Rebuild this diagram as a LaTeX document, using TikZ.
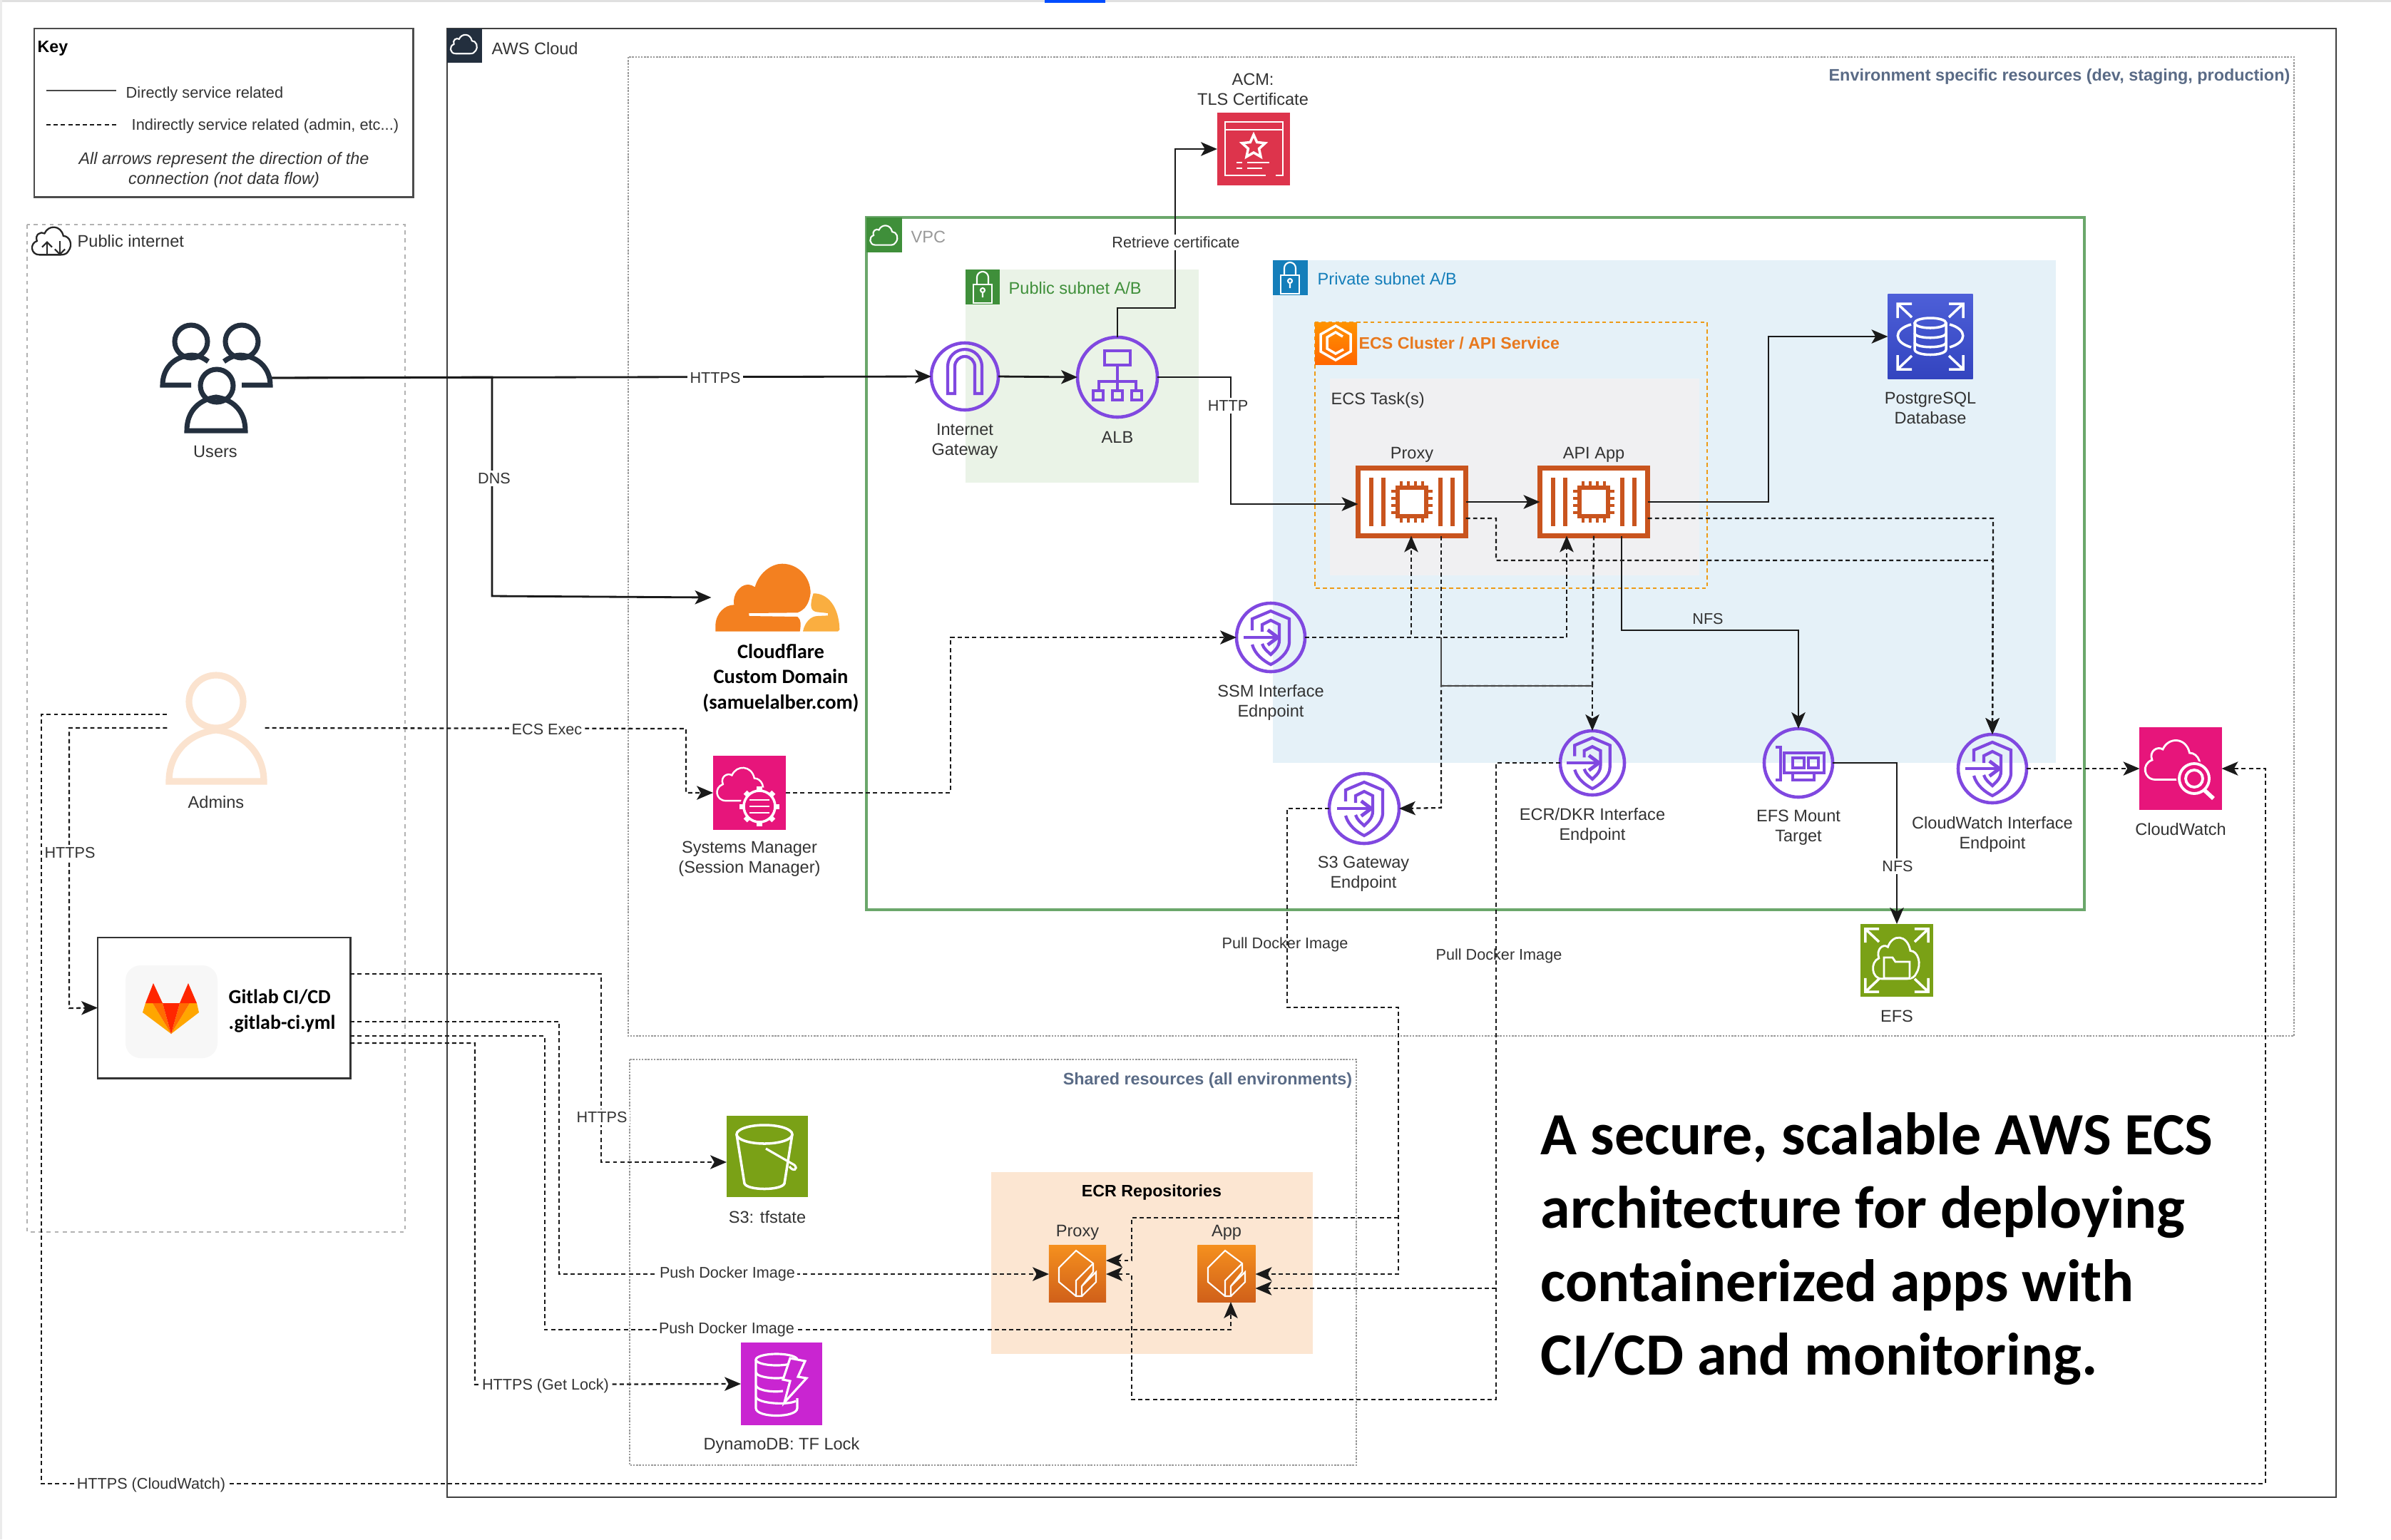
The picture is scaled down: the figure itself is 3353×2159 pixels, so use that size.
\documentclass[tikz,border=0pt]{standalone}
\usepackage{fontspec}
\setmainfont{Liberation Sans}
\newfontfamily\calfont{Carlito}
\usetikzlibrary{arrows.meta}
\definecolor{txtc}{HTML}{333333}
\definecolor{ink}{HTML}{1A1A1A}
\definecolor{purp}{HTML}{8048E0}
\definecolor{chipc}{HTML}{C9541E}
\definecolor{slate}{HTML}{5A6B86}
\definecolor{awsd}{HTML}{232F3E}
\definecolor{vpcg}{HTML}{3F8F3A}
\definecolor{vpcl}{HTML}{6BA76B}
\definecolor{subb}{HTML}{147EBA}
\definecolor{orng}{HTML}{E8791E}
\definecolor{pinkc}{HTML}{E7157B}
\definecolor{greenc}{HTML}{7AA116}
\definecolor{redc}{HTML}{DD344C}
\definecolor{magc}{HTML}{C925D1}
\definecolor{cfa}{HTML}{F38020}
\definecolor{cfb}{HTML}{FAAE40}
\definecolor{pubbg}{HTML}{EAF3E7}
\definecolor{privbg}{HTML}{E5F1F8}
\definecolor{taskbg}{HTML}{F0F0F2}
\definecolor{ecrbg}{HTML}{FCE6D2}
\definecolor{admc}{HTML}{FBE3CF}
\definecolor{rdst}{HTML}{4D5FD8}
\definecolor{rdsb}{HTML}{3344BF}
\definecolor{ecrt}{HTML}{F5901E}
\definecolor{ecrb}{HTML}{D0601A}
\tikzset{
 lbl/.style={font=\fontsize{6.7}{8}\selectfont,text=txtc,align=center,inner sep=0pt,yshift=-.6pt},
 conlbl/.style={font=\fontsize{6.15}{8}\selectfont,text=txtc,align=center,fill=white,inner sep=1pt},
 plainlbl/.style={font=\fontsize{6.15}{8}\selectfont,text=txtc,align=center,inner sep=0pt,yshift=-.6pt},
 boldb/.style={font=\calfont\bfseries\fontsize{8.1}{10}\selectfont,text=black,align=center,inner sep=0pt},
 sol/.style={draw=ink,line width=.8pt,-{Stealth[length=6.5pt,width=5.5pt,inset=1.6pt]}},
 dsh/.style={draw=ink,line width=.65pt,dash pattern=on 1.7pt off 1.2pt,-{Stealth[length=6.5pt,width=5.5pt,inset=1.6pt]}},
 dshp/.style={draw=ink,line width=.65pt,dash pattern=on 1.7pt off 1.2pt},
 dotbox/.style={draw=gray!80,line width=.5pt,dash pattern=on .7pt off .5pt},
 circ/.style={circle,draw=purp,line width=1.3pt,inner sep=0pt,outer sep=0pt},
 sq/.style={rectangle,inner sep=0pt,outer sep=0pt},
 chipbox/.style={rectangle,draw=chipc,line width=1.8pt,fill=white,inner sep=0pt,outer sep=0pt,minimum width=1.51cm,minimum height=.95cm},
 wl/.style={draw=white,line width=.8pt},
 endpointic/.pic={
  \draw[purp,line width=1.2pt] (-26,-10) -- (-26,-26) -- (0,-37) -- (26,-26) -- (26,6) .. controls (26,22) and (10,33) .. (0,38) .. controls (-10,33) and (-22,24) .. (-26,10);
  \draw[purp,line width=1.2pt] (-12,-8) -- (-12,-18) -- (0,-24) -- (12,-18) -- (12,4) .. controls (12,14) and (4,20) .. (0,24) .. controls (-4,20) and (-10,16) .. (-12,9);
  \draw[purp,line width=1.4pt,-{Straight Barb[length=4pt,width=6pt]}] (-38,0) -- (14,0);
 },
 igwic/.pic={
  \draw[purp,line width=1.2pt] (-24,24) -- (-24,-14) arc[start angle=180,end angle=360,radius=24] -- (24,24) -- (14,24) -- (14,-14) arc[start angle=360,end angle=180,radius=14] -- (-14,24) -- cycle;
 },
 albic/.pic={
  \draw[purp,line width=1.2pt] (-18,-37) rectangle (18,-17);
  \draw[purp,line width=1.2pt] (0,-17) -- (0,6) (-26,19) -- (-26,6) -- (26,6) -- (26,19) (0,6) -- (0,19);
  \foreach \a in {-34,-7,20}{\draw[purp,line width=1.2pt] (\a,19) rectangle ++(14,13);}
 },
 chipic/.pic={
  \foreach \a in {-57,-40,40,57}{\draw[chipc,line width=1.7pt] (\a,-34) -- (\a,34);}
  \draw[chipc,line width=1.9pt] (-20,-20) rectangle (20,20);
  \foreach \a in {-15,-5,5,15}{
   \draw[chipc,line width=1.3pt] (\a,-29) -- (\a,-20) (\a,20) -- (\a,29) (-29,\a) -- (-20,\a) (20,\a) -- (29,\a);}
 },
 cloudic/.pic={
  \draw[pic actions] (-14,22) -- (-20,22) .. controls (-34,22) and (-36,4) .. (-24,0) .. controls (-28,-10) and (-18,-16) .. (-12,-12) .. controls (-6,-26) and (14,-26) .. (18,-8) .. controls (28,-8) and (34,6) .. (26,16) .. controls (24,20) and (20,22) .. (14,22) -- cycle;
 },
 lockic/.pic={
  \draw[pic actions] (-13,-3) rectangle (13,23);
  \draw[pic actions] (-8,-3) -- (-8,-13) arc[start angle=180,end angle=360,radius=8] -- (8,-3);
  \draw[pic actions] (0,5) circle[radius=3] (0,8) -- (0,15);
 },
 hexic/.pic={
  \draw[wl,line width=1pt] (0,-24) -- (21,-12) -- (21,12) -- (0,24) -- (-21,12) -- (-21,-12) -- cycle;
  \draw[wl,line width=1pt] (10,-9) -- (0,-15) -- (-12,-8) -- (-12,8) -- (0,15) -- (11,9);
 },
 ecric/.pic={
  \draw[wl,line width=.6pt] (-26,-8) -- (-2,-32) -- (22,-14) -- (22,-2) -- (6,18) -- (6,32) -- (-2,32) -- (-26,12) -- cycle;
  \draw[wl,line width=.6pt] (22,-14) -- (-2,10) -- (-2,32) (6,18) -- (26,-2) -- (26,12) -- (6,32);
 },
 arrowsic/.pic={
  \foreach \sx/\sy in {1/1,1/-1,-1/1,-1/-1}{
   \draw[wl,line width=1pt] (\sx*26,\sy*27) -- (\sx*46,\sy*46) (\sx*46,\sy*26) -- (\sx*46,\sy*46) -- (\sx*26,\sy*46);}
 },
}
\begin{document}
\begin{tikzpicture}[x=0.01cm,y=-0.01cm]
\useasboundingbox (0,0) rectangle (3353,2159);
\fill[white] (0,0) rectangle (3353,2159);
\fill[black!12] (0,0) rectangle (3353,3);
\fill[black!8] (0,0) rectangle (3,2159);
\fill[blue!70!cyan] (1465,0) rectangle (1550,4);

%% containers
\node[sq,draw=black!70,line width=.8pt,minimum width=5.31cm,minimum height=2.36cm,anchor=north west] (keybox) at (48,40) {};
\draw[draw=gray!60,line width=.6pt,dash pattern=on 1.6pt off 1.6pt] (38,315) rectangle (568,1728);
\draw[draw=black!75,line width=.8pt] (627,40) rectangle (3276,2100);
\draw[dotbox] (881,80) rectangle (3217,1453);
\draw[dotbox] (883,1486) rectangle (1902,2055);
\draw[vpcl,line width=.9pt] (1215,305) rectangle (2923,1276);
\fill[pubbg] (1354,378) rectangle (1681,677);
\fill[privbg] (1785,365) rectangle (2883,1070);
\fill[taskbg] (1865,531) rectangle (2383,807);
\draw[orng!75!yellow,line width=.75pt,dash pattern=on 1.6pt off 1.2pt] (1844,452) rectangle (2394,825);
\fill[ecrbg] (1390,1644) rectangle (1841,1899);

%% header badges
\node[sq,fill=awsd,minimum width=.49cm,minimum height=.48cm,anchor=north west] (hcloud) at (627,40) {};
\pic[draw=white,line width=.6pt,scale=.6] at (651,62) {cloudic};
\node[sq,fill=vpcg,minimum width=.5cm,minimum height=.49cm,anchor=north west] (hvpc) at (1215,305) {};
\pic[draw=white,line width=.6pt,scale=.62] at (1240,330) {cloudic};
\node[sq,fill=vpcg,minimum width=.48cm,minimum height=.49cm,anchor=north west] (hpub) at (1354,378) {};
\pic[draw=white,line width=.6pt] at (1378,402) {lockic};
\node[sq,fill=subb,minimum width=.49cm,minimum height=.49cm,anchor=north west] (hpriv) at (1785,365) {};
\pic[draw=white,line width=.6pt] at (1809,389) {lockic};
\node[sq,minimum width=.59cm,minimum height=.59cm,anchor=north west,top color=orange!85!yellow,bottom color=orange!80!red] (hecs) at (1844,452) {};
\pic at (1873,481) {hexic};
\pic[draw=black!85,line width=.65pt,scale=.88] at (73,338) {cloudic};
\draw[black!85,line width=.6pt,-{Straight Barb[length=2pt,width=4pt]}] (66,358) -- (66,338);
\draw[black!85,line width=.6pt,-{Straight Barb[length=2pt,width=4pt]}] (84,338) -- (84,358);

%% icon nodes
\node[sq,minimum width=1.53cm,minimum height=1.53cm] (users) at (302,530) {};
\node[sq,minimum width=1.37cm,minimum height=1.53cm] (admins) at (303,1021) {};
\node[circ,minimum size=.94cm] (igw) at (1353,528) {};
\node[circ,minimum size=1.12cm] (alb) at (1567,529) {};
\node[sq,fill=redc,minimum width=1.02cm,minimum height=1.02cm] (acm) at (1758,209) {};
\node[sq,minimum width=1.83cm,minimum height=.96cm] (cf) at (1089,838) {};
\node[sq,fill=pinkc,minimum width=1.02cm,minimum height=1.03cm] (smgr) at (1051,1112) {};
\node[circ,minimum size=.96cm] (ssmep) at (1782,894) {};
\node[circ,minimum size=.98cm] (s3ep) at (1913,1134) {};
\node[circ,minimum size=.9cm] (ecrep) at (2233,1070) {};
\node[circ,minimum size=.96cm] (efsmt) at (2522,1070) {};
\node[circ,minimum size=.96cm] (cwep) at (2794,1078) {};
\node[sq,fill=pinkc,minimum width=1.15cm,minimum height=1.15cm] (cw) at (3058,1078) {};
\node[sq,fill=greenc,minimum width=1.02cm,minimum height=1.02cm] (efs) at (2660,1347) {};
\node[sq,minimum width=1.19cm,minimum height=1.18cm,top color=rdst,bottom color=rdsb] (rds) at (2707,472) {};
\node[sq,fill=greenc,minimum width=1.14cm,minimum height=1.14cm] (s3) at (1076,1622) {};
\node[sq,fill=magc,minimum width=1.14cm,minimum height=1.15cm] (ddb) at (1096,1941) {};
\node[sq,minimum width=.8cm,minimum height=.8cm,top color=ecrt,bottom color=ecrb] (ecrp) at (1511,1786) {};
\node[sq,minimum width=.81cm,minimum height=.8cm,top color=ecrt,bottom color=ecrb] (ecra) at (1720,1786) {};
\node[sq,draw=black!80,line width=.8pt,minimum width=3.54cm,minimum height=1.97cm,anchor=north west] (gitlab) at (137,1315) {};
\node[chipbox] (chipP) at (1980,704) {};
\node[chipbox] (chipA) at (2235,704) {};

%% solid connectors
\draw[sol] (users.east) -- (igw.west);
\draw[sol] (users.east) -- (690,529) -- (690,836) -- (cf.west);
\draw[sol] (igw.east) -- (alb.west);
\draw[sol] (alb.north) -- (1567,432) -- (1648,432) -- (1648,209) -- (acm.west);
\draw[sol] (alb.east) -- (1726,529) -- (1726,707) -- (chipP.west |- 0,707);
\draw[sol] (chipP.east) -- (chipA.west);
\draw[sol] (chipA.east) -- (2480,704) -- (2480,472) -- (rds.west);
\draw[sol] (chipA.south -| 2274,0) -- (2274,884) -- (2522,884) -- (efsmt.north);
\draw[sol] (efsmt.east) -- (2660,1070) -- (efs.north);

%% dashed connectors
\draw[dsh] (admins.east) -- (962,1022) -- (962,1112) -- (smgr.west);
\draw[dsh] (admins.west |- 0,1002) -- (58,1002) -- (58,2081) -- (3177,2081) -- (3177,1078) -- (cw.east);
\draw[dsh] (admins.west |- 0,1021) -- (97,1021) -- (97,1414) -- (gitlab.west);
\draw[dsh] (smgr.east) -- (1333,1112) -- (1333,894) -- (ssmep.west);
\draw[dsh] (ssmep.east) -- (1979,894) -- (chipP.south -| 1979,0);
\draw[dsh] (ssmep.east) -- (2197,894) -- (chipA.south -| 2197,0);
\draw[dsh] (chipP.east |- 0,727) -- (2098,727) -- (2098,786) -- (2795,786) -- (cwep.north);
\draw[dsh] (chipA.east |- 0,727) -- (2795,727) -- (cwep.north);
\draw[dsh] (chipP.south -| 2021,0) -- (2021,962) -- (2233,962) -- (ecrep.north);
\draw[dsh] (chipA.south) -- (2233,962) -- (2021,962) -- (2021,1133) -- (s3ep.east);
\draw[draw=ink!80,line width=.5pt] (2021,894) -- (2021,962) -- (2233,962);
\draw[dsh] (cwep.east) -- (cw.west);
\draw[dsh] (s3ep.west) -- (1805,1134) -- (1805,1413) -- (1961,1413) -- (1961,1787) -- (ecra.east |- 0,1787);
\draw[dsh] (1961,1708) -- (1587,1708) -- (1587,1768) -- (ecrp.east |- 0,1768);
\draw[dsh] (ecrep.west) -- (2098,1070) -- (2098,1963) -- (1587,1963) -- (1587,1787) -- (ecrp.east |- 0,1787);
\draw[dsh] (2098,1807) -- (ecra.east |- 0,1807);
\draw[dsh] (gitlab.east |- 0,1366) -- (843,1366) -- (843,1630) -- (s3.west |- 0,1630);
\draw[dsh] (gitlab.east |- 0,1433) -- (784,1433) -- (784,1787) -- (ecrp.west |- 0,1787);
\draw[dsh] (gitlab.east |- 0,1453) -- (764,1453) -- (764,1865) -- (1726,1865) -- (ecra.south -| 1726,0);
\draw[dsh] (gitlab.east |- 0,1463) -- (666,1463) -- (666,1942) -- (ddb.west);

%% glyphs
\pic at (igw.center) {igwic};
\pic at (alb.center) {albic};
\pic at (ssmep.center) {endpointic};
\pic at (s3ep.center) {endpointic};
\pic[scale=.95] at (ecrep.center) {endpointic};
\pic at (cwep.center) {endpointic};
\pic at (chipP.center) {chipic};
\pic at (chipA.center) {chipic};
\pic at (ecrp.center) {ecric};
\pic at (ecra.center) {ecric};
% users
\draw[awsd,line width=2pt] (268,479) circle[radius=23] (339,479) circle[radius=23] (304,541) circle[radius=23];
\draw[awsd,line width=2pt] (262,604) -- (344,604) .. controls (344,575) and (325,560) .. (303,557) .. controls (281,560) and (262,575) .. (262,604) -- cycle;
\draw[awsd,line width=2pt] (292,507) .. controls (280,498) and (270,497) .. (262,499) .. controls (240,503) and (228,520) .. (228,540) -- (268,540);
\draw[awsd,line width=2pt] (314,507) .. controls (326,498) and (336,497) .. (344,499) .. controls (366,503) and (379,520) .. (379,540) -- (339,540);
% admins
\draw[admc,line width=2.6pt] (303,984) ellipse[x radius=38,y radius=37];
\draw[admc,line width=2.6pt] (237,1096) -- (370,1096) .. controls (370,1055) and (340,1028) .. (303,1024) .. controls (266,1028) and (237,1055) .. (237,1096) -- cycle;
% acm
\begin{scope}[shift={(acm.center)}]
\draw[wl] (17,37) -- (-40,37) -- (-40,-38) -- (41,-38) -- (41,37) -- (31,37) (-40,-27) -- (41,-27);
\draw[wl,line width=1pt] (0,-20) -- (4.7,-9.5) -- (16.2,-8.3) -- (7.6,-.5) -- (10,10.8) -- (0,5) -- (-10,10.8) -- (-7.6,-.5) -- (-16.2,-8.3) -- (-4.7,-9.5) -- cycle;
\draw[wl] (-24,19) -- (-16,19) (-9,19) -- (22,19) (-24,27) -- (-16,27) (-9,27) -- (12,27);
\end{scope}
% cloudflare
\begin{scope}[shift={(980,770)},scale=1/3]
\fill[cfa] (70,347) -- (70,320) .. controls (72,270) and (110,235) .. (148,235) .. controls (140,190) and (175,150) .. (205,150) .. controls (218,150) and (228,155) .. (236,160) .. controls (255,95) and (310,62) .. (350,62) .. controls (420,62) and (470,120) .. (470,185) .. controls (465,225) and (450,255) .. (415,268) -- (210,270) -- (212,282) -- (415,285) .. controls (430,295) and (430,320) .. (425,347) -- cycle;
\fill[cfb] (438,347) .. controls (445,310) and (470,282) .. (500,282) -- (543,280) -- (543,270) -- (495,265) .. controls (470,260) and (465,240) .. (482,187) .. controls (540,185) and (590,240) .. (592,340) -- (585,347) -- cycle;
\end{scope}
% systems manager
\begin{scope}[shift={(smgr.center)}]
\pic[draw=white,line width=.7pt,scale=1.05] at (-12,-12) {cloudic};
\fill[pinkc] (14,19) circle[radius=27];
\draw[wl,line width=1pt] (14,19) circle[radius=22];
\foreach \a in {0,45,...,315}{\draw[wl,line width=2pt] (14,19) ++(\a:22) -- ++(\a:6);}
\draw[wl] (0,10) -- (28,10) (0,19) -- (28,19) (0,28) -- (28,28);
\end{scope}
% cloudwatch
\begin{scope}[shift={(cw.center)}]
\pic[draw=white,line width=.8pt,scale=1.25] at (-10,-12) {cloudic};
\fill[pinkc] (19,14) circle[radius=25];
\draw[wl,line width=1.1pt] (19,14) circle[radius=21] (19,14) circle[radius=12];
\draw[wl,line width=1.6pt] (33,30) -- (46,42);
\end{scope}
% efs
\begin{scope}[shift={(efs.center)}]
\pic[draw=white,line width=.8pt,scale=1.05,yscale=1.25] at (0,-3) {cloudic};
\pic[scale=.96] at (0,0) {arrowsic};
\fill[greenc] (-18,-2) rectangle (20,25);
\draw[wl] (-18,25) -- (-18,-4) -- (-6,-4) -- (-2,2) -- (18,2) -- (18,25) -- cycle;
\end{scope}
% rds
\begin{scope}[shift={(rds.center)}]
\pic at (0,0) {arrowsic};
\draw[wl,line width=1pt] (0,-19) ellipse[x radius=22,y radius=7];
\draw[wl,line width=1pt] (-22,-19) -- (-22,18) .. controls (-22,28) and (22,28) .. (22,18) -- (22,-19);
\draw[wl,line width=1pt] (-22,-5) .. controls (-22,4) and (22,4) .. (22,-5) (-22,8) .. controls (-22,17) and (22,17) .. (22,8);
\draw[wl,line width=1pt] (-27,-17) .. controls (-52,-10) and (-52,8) .. (-27,15) (27,-17) .. controls (52,-10) and (52,8) .. (27,15);
\end{scope}
% s3
\begin{scope}[shift={(s3.center)}]
\draw[wl,line width=1pt] (-4,-31) ellipse[x radius=39,y radius=13];
\draw[wl,line width=1pt] (-43,-31) -- (-32,38) .. controls (-28,48) and (20,48) .. (24,38) -- (35,-31);
\draw[wl,line width=.9pt] (-2,-11) -- (38,12) .. controls (44,18) and (36,22) .. (31,14);
\end{scope}
% dynamodb
\begin{scope}[shift={(ddb.center)}]
\draw[wl,line width=.9pt] (-7,-34) ellipse[x radius=29,y radius=8];
\draw[wl,line width=.9pt] (-36,-34) -- (-36,34) .. controls (-36,48) and (22,48) .. (22,34) -- (22,20);
\draw[wl,line width=.9pt] (-36,-16) .. controls (-34,-8) and (0,-6) .. (6,-10) (-36,2) .. controls (-34,10) and (-10,12) .. (2,10) (-36,18) .. controls (-34,28) and (10,30) .. (20,24);
\fill[magc] (12,-36) -- (33,-32) -- (23,-10) -- (35,-8) -- (4,26) -- (12,-4) -- (2,-6) -- cycle;
\draw[wl,line width=.9pt] (12,-36) -- (33,-32) -- (23,-10) -- (35,-8) -- (4,26) -- (12,-4) -- (2,-6) -- cycle;
\end{scope}
% efs mount
\begin{scope}[shift={(efsmt.center)}]
\draw[purp,line width=1.2pt] (-32,-22) -- (-25,-22) -- (-25,24) -- (-32,24);
\draw[purp,line width=1.2pt] (-20,-14) rectangle (36,14) (-8,14) -- (-8,24) -- (22,24) -- (22,14);
\draw[purp,line width=1.2pt] (-8,-7) rectangle (8,7) (14,-7) rectangle (28,7);
\end{scope}
% gitlab
\fill[black!3,rounded corners=6pt] (176,1354) rectangle (305,1484);
\fill[orange!70!yellow] (204,1407) -- (200,1420) -- (240,1450) -- (214,1407) -- cycle;
\fill[orange!85!red] (214,1407) -- (228,1407) -- (240,1450) -- cycle;
\fill[orange!70!yellow] (276,1407) -- (279,1420) -- (240,1450) -- (266,1407) -- cycle;
\fill[orange!85!red] (266,1407) -- (252,1407) -- (240,1450) -- cycle;
\fill[red!70!orange] (228,1407) -- (252,1407) -- (240,1450) -- cycle;
\fill[red!70!orange] (215,1379) -- (228,1407) -- (204,1407) -- cycle;
\fill[red!70!orange] (264,1379) -- (252,1407) -- (276,1407) -- cycle;

%% key
\coordinate (ka1) at (65,127); \coordinate (ka2) at (163,127);
\coordinate (kb1) at (65,175); \coordinate (kb2) at (163,175);
\draw[ink!80,line width=.8pt] (ka1) -- (ka2);
\draw[dshp] (kb1) -- (kb2);
\node[lbl,font=\bfseries\fontsize{6.6}{8}\selectfont,text=black,anchor=west] (tkey) at (52,66) {Key};
\node[lbl,font=\fontsize{6.2}{8}\selectfont,anchor=west] (tk1) at (176,130) {Directly service related};
\node[lbl,font=\fontsize{6.2}{8}\selectfont,anchor=west] (tk2) at (184,175) {Indirectly service related (admin, etc...)};
\node[lbl,font=\itshape\fontsize{6.65}{8}\selectfont] (tk3) at (314,236) {All arrows represent the direction of the\\connection (not data flow)};

%% container labels
\node[lbl,anchor=west] (tpub) at (108,336) {Public internet};
\node[lbl,anchor=west] (taws) at (689,66) {AWS Cloud};
\node[lbl,font=\bfseries\fontsize{6.65}{8}\selectfont,text=slate,anchor=east] (tenv) at (3212,105) {Environment specific resources (dev, staging, production)};
\node[lbl,font=\bfseries\fontsize{6.65}{8}\selectfont,text=slate,anchor=east] (tshr) at (1897,1513) {Shared resources (all environments)};
\node[lbl,text=black!40,anchor=west] (tvpc) at (1277,330) {VPC};
\node[lbl,text=vpcg,anchor=west] (tpsn) at (1414,402) {Public subnet A/B};
\node[lbl,text=subb,anchor=west] (tpvn) at (1847,389) {Private subnet A/B};
\node[lbl,font=\bfseries\fontsize{6.6}{8}\selectfont,text=orng,anchor=west] (tecs) at (1905,479) {ECS Cluster / API Service};
\node[lbl,anchor=west] (ttask) at (1866,559) {ECS Task(s)};
\node[lbl,font=\bfseries\fontsize{6.6}{8}\selectfont,text=black] (tecr) at (1615,1670) {ECR Repositories};

%% node labels
\node[lbl] (lusers) at (302,631) {Users};
\node[lbl] (ladm) at (303,1123) {Admins};
\node[lbl] (ligw) at (1353,617) {Internet\\Gateway};
\node[lbl] (lalb) at (1567,611) {ALB};
\node[lbl] (lacm) at (1757,123) {ACM:\\TLS Certificate};
\node[lbl] (lpxy) at (1980,636) {Proxy};
\node[lbl] (lapi) at (2235,636) {API App};
\node[lbl] (lrds) at (2707,570) {PostgreSQL\\Database};
\node[lbl] (lssm) at (1782,983) {SSM Interface\\Ednpoint};
\node[lbl] (ls3e) at (1912,1224) {S3 Gateway\\Endpoint};
\node[lbl] (lecr) at (2233,1156) {ECR/DKR Interface\\Endpoint};
\node[lbl] (lmt) at (2522,1159) {EFS Mount\\Target};
\node[lbl] (lcwe) at (2794,1168) {CloudWatch Interface\\Endpoint};
\node[lbl] (lcw) at (3058,1161) {CloudWatch};
\node[lbl] (lefs) at (2660,1423) {EFS};
\node[lbl] (lsm) at (1051,1203) {Systems Manager\\(Session Manager)};
\node[lbl] (ls3) at (1076,1705) {S3: tfstate};
\node[lbl] (lddb) at (1096,2025) {DynamoDB: TF Lock};
\node[lbl] (lrp) at (1511,1727) {Proxy};
\node[lbl] (lra) at (1720,1727) {App};
\node[boldb] (lcf) at (1095,951) {Cloudflare\\Custom Domain\\(samuelalber.com)};
\node[boldb,font=\calfont\bfseries\fontsize{7.95}{10.2}\selectfont,anchor=west,align=left] (lgit) at (320,1418) {Gitlab CI/CD\\.gitlab-ci.yml};

%% connector labels
\node[conlbl] (chttps) at (1003,530) {HTTPS};
\node[conlbl] (cdns) at (693,671) {DNS};
\node[conlbl] (cret) at (1649,340) {Retrieve certificate};
\node[conlbl] (chttp) at (1722,569) {HTTP};
\node[plainlbl] (cnfs) at (2395,866) {NFS};
\node[conlbl] (cnfs2) at (2661,1215) {NFS};
\node[conlbl] (cexec) at (767,1023) {ECS Exec};
\node[conlbl] (chttps2) at (98,1196) {HTTPS};
\node[conlbl] (cwatch) at (212,2083) {HTTPS (CloudWatch)};
\node[conlbl] (chttps3) at (844,1567) {HTTPS};
\node[conlbl] (cpush1) at (1020,1787) {Push Docker Image};
\node[conlbl] (cpush2) at (1019,1865) {Push Docker Image};
\node[conlbl] (cglock) at (765,1944) {HTTPS (Get Lock)};
\node[plainlbl] (cpull1) at (1802,1323) {Pull Docker Image};
\node[plainlbl] (cpull2) at (2102,1339) {Pull Docker Image};

%% caption
\node[anchor=west,align=left,inner sep=0pt,font=\calfont\bfseries\fontsize{23.9}{29.3}\selectfont,text=black] (title) at (2160,1752) {A secure, scalable AWS ECS\\architecture for deploying\\containerized apps with\\CI/CD and monitoring.};
\end{tikzpicture}
\end{document}
